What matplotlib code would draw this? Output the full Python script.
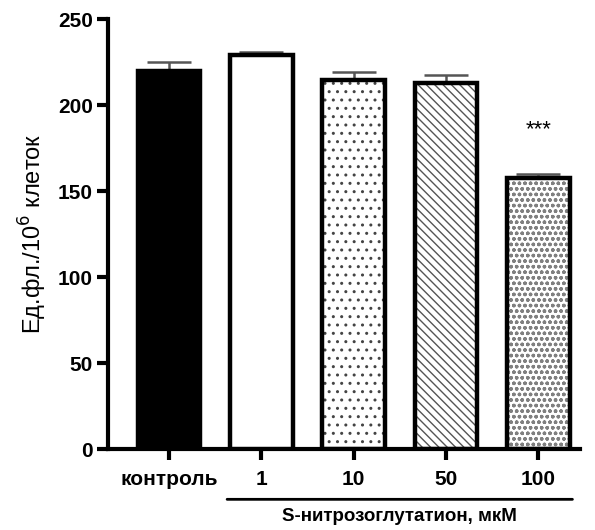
import numpy as np
import matplotlib.pyplot as plt

plt.rcParams['font.family'] = ['Liberation Sans', 'DejaVu Sans']

labels = ['контроль', '1', '10', '50', '100']
values = [220, 229, 214.5, 213, 157.5]
errors = [5, 2, 4.5, 4.5, 2.5]
hatches = ['', '', '..', '\\\\\\\\', 'ooo']
hatch_colors = ['', '', '#444444', '#555555', '#808080']
fills = ['black', 'white', 'white', 'white', 'white']

fig = plt.figure(figsize=(5.95, 5.3), dpi=100)
ax = fig.add_axes([0.1815, 0.1528, 0.793, 0.8113])

x = np.arange(len(labels))
w = 0.68

# error bars (upper only), behind the bars
ax.errorbar(x, values, yerr=[np.zeros(len(errors)), errors], fmt='none',
            ecolor='#555555', elinewidth=1.8, capsize=16, capthick=1.8, zorder=1)

plt.rcParams['hatch.linewidth'] = 1.0
for i in range(len(labels)):
    if hatches[i]:
        ax.bar(x[i], values[i], w, color='white', edgecolor=hatch_colors[i],
               hatch=hatches[i], linewidth=0, zorder=2)
        ax.bar(x[i], values[i], w, fill=False, edgecolor='black',
               linewidth=3.2, zorder=3)
    else:
        ax.bar(x[i], values[i], w, color=fills[i], edgecolor='black',
               linewidth=3.2, zorder=3)

ax.text(x[4], values[4] + 28, '***', ha='center', va='center', fontsize=16)

ax.set_ylim(0, 250)
ax.set_xlim(-0.66, 4.45)
ax.set_yticks([0, 50, 100, 150, 200, 250])
ax.set_xticks(x)
ax.set_xticklabels(labels)
for s in ['top', 'right']:
    ax.spines[s].set_visible(False)
for s in ['left', 'bottom']:
    ax.spines[s].set_linewidth(3)
ax.tick_params(width=3, length=8, labelsize=15, pad=3)
for t in ax.get_xticklabels() + ax.get_yticklabels():
    t.set_fontweight('bold')
ax.tick_params(axis='x', pad=7)

ax.set_ylabel('Ед.фл./10$^6$ клеток', fontsize=17, labelpad=6)

# bracket below concentration labels
ax.annotate('', xy=(0.6, -0.117), xycoords=('data', 'axes fraction'),
            xytext=(4.4, -0.117), textcoords=('data', 'axes fraction'),
            arrowprops=dict(arrowstyle='-', lw=2, color='black'))
ax.text(2.5, -0.157, 'S-нитрозоглутатион, мкМ', transform=ax.get_xaxis_transform(),
        ha='center', va='center', fontsize=13.5, fontweight='bold')

fig.savefig('out.png', dpi=100)
